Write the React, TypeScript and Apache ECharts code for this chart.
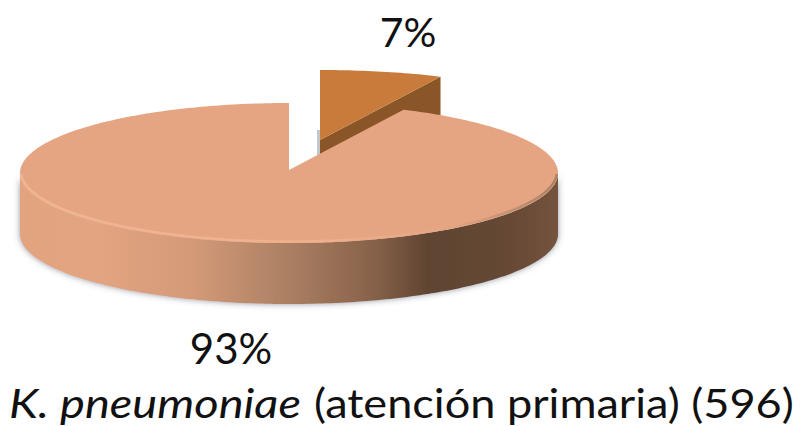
import React, { useEffect, useRef } from "react";
import * as echarts from "echarts";

const categories = ["Resistente", "Sensible"];
const sliceValues = [7, 93];
const captionSpecies = "K. pneumoniae";
const captionRest = "(atención primaria) (596)";

const FONT = "Lato, 'Open Sans', sans-serif";
const CX = 289;
const CY = 173;
const RX = 269;
const RY = 70;
const DEPTH = 61;

// Point on the tilted rim; the angle runs clockwise from twelve o'clock.
const rim = (cx: number, cy: number, rx: number, ry: number, deg: number) => {
  const a = (deg * Math.PI) / 180;
  return [cx + rx * Math.sin(a), cy - ry * Math.cos(a)];
};

const arc = (cx: number, cy: number, rx: number, ry: number, from: number, to: number) => {
  const n = Math.max(8, Math.ceil(Math.abs(to - from)));
  const pts: number[][] = [];
  for (let i = 0; i <= n; i++) pts.push(rim(cx, cy, rx, ry, from + ((to - from) * i) / n));
  return pts;
};

const renderSlice = (params: any, api: any) => {
  const total = sliceValues.reduce((s, v) => s + v, 0);
  const value = api.value(1) as number;
  const sweep = (value / total) * 360;
  const pct = `${value}%`;

  if (params.dataIndex === 0) {
    // Pulled-out slice: top face plus the cut face that runs towards the viewer.
    const cx = CX + 31;
    const cy = CY - 33;
    const rx = RX + 14;
    const end = rim(cx, cy, rx, RY, sweep);
    return {
      type: "group",
      children: [
        {
          type: "rect",
          shape: { x: cx - 3, y: cy - 10, width: 3, height: 28 },
          style: { fill: "#c3c6cc" },
        },
        {
          type: "polygon",
          shape: {
            points: [
              [cx, cy],
              end,
              [end[0], end[1] + DEPTH],
              [cx, cy + DEPTH],
            ],
          },
          style: { fill: "#8a5627" },
        },
        {
          type: "polygon",
          shape: { points: [[cx, cy], ...arc(cx, cy, rx, RY, 0, sweep)] },
          style: { fill: "#c97b3b" },
        },
        {
          type: "text",
          style: {
            text: pct,
            x: 408,
            y: 31,
            align: "center",
            verticalAlign: "middle",
            font: `41px ${FONT}`,
            fill: "#111",
          },
        },
      ],
    };
  }

  // Remaining slice: visible wall along the front half, then the top face.
  const start = 360 - sweep;
  const front = arc(CX, CY, RX, RY, 90, 270);
  const wall = [...front, ...front.map((p) => [p[0], p[1] + DEPTH]).reverse()];
  return {
    type: "group",
    children: [
      {
        type: "polygon",
        shape: { points: wall },
        style: {
          fill: {
            type: "linear",
            global: true,
            x: CX - RX,
            y: 0,
            x2: CX + RX,
            y2: 0,
            colorStops: [
              { offset: 0, color: "#e2a37f" },
              { offset: 0.14, color: "#e3a481" },
              { offset: 0.32, color: "#d49a78" },
              { offset: 0.5, color: "#ab7f63" },
              { offset: 0.66, color: "#866149" },
              { offset: 0.76, color: "#5f4431" },
              { offset: 0.9, color: "#654835" },
              { offset: 1, color: "#74533d" },
            ],
          },
          shadowColor: "rgba(70,80,100,0.6)",
          shadowBlur: 6,
        },
      },
      {
        type: "polygon",
        shape: { points: [[CX, CY - 3], ...arc(CX, CY, RX, RY, start, 360)] },
        style: { fill: "#e5a582" },
      },
      {
        // Bevel along the front rim: bright on the left, fading out to the right.
        type: "polyline",
        shape: { points: arc(CX, CY - 1.5, RX - 1, RY, 92, 268) },
        style: {
          lineWidth: 2.5,
          fill: "none",
          stroke: {
            type: "linear",
            global: true,
            x: CX - RX,
            y: 0,
            x2: CX + RX,
            y2: 0,
            colorStops: [
              { offset: 0, color: "#f2b592" },
              { offset: 0.55, color: "#f0b08c" },
              { offset: 0.8, color: "#e5a582" },
              { offset: 1, color: "#ab7f63" },
            ],
          },
        },
      },
      {
        type: "text",
        style: {
          text: pct,
          x: 231,
          y: 348,
          align: "center",
          verticalAlign: "middle",
          font: `42px ${FONT}`,
          fill: "#111",
        },
      },
    ],
  };
};

export default function App() {
  const ref = useRef<HTMLDivElement>(null);

  useEffect(() => {
    document.body.style.margin = "0";
    const chart = echarts.init(ref.current!, undefined, { renderer: "svg" });
    chart.setOption({
      animation: false,
      backgroundColor: "#ffffff",
      graphic: [
        {
          type: "text",
          x: 9,
          y: 402,
          scaleX: 1.147,
          style: {
            text: captionSpecies,
            font: `italic 41px ${FONT}`,
            fill: "#111",
            verticalAlign: "middle",
          },
        },
        {
          type: "text",
          x: 314,
          y: 402,
          scaleX: 1.1,
          style: {
            text: captionRest,
            font: `41px ${FONT}`,
            fill: "#111",
            verticalAlign: "middle",
          },
        },
      ],
      series: [
        {
          type: "custom",
          coordinateSystem: "none",
          renderItem: renderSlice,
          data: categories.map((c, i) => [c, sliceValues[i]]),
          dimensions: ["category", "value"],
          silent: true,
        },
      ],
    });
    return () => chart.dispose();
  }, []);

  return (
    <div
      ref={ref}
      style={{ position: "absolute", left: 0, top: 0, width: 802, height: 426 }}
    />
  );
}
